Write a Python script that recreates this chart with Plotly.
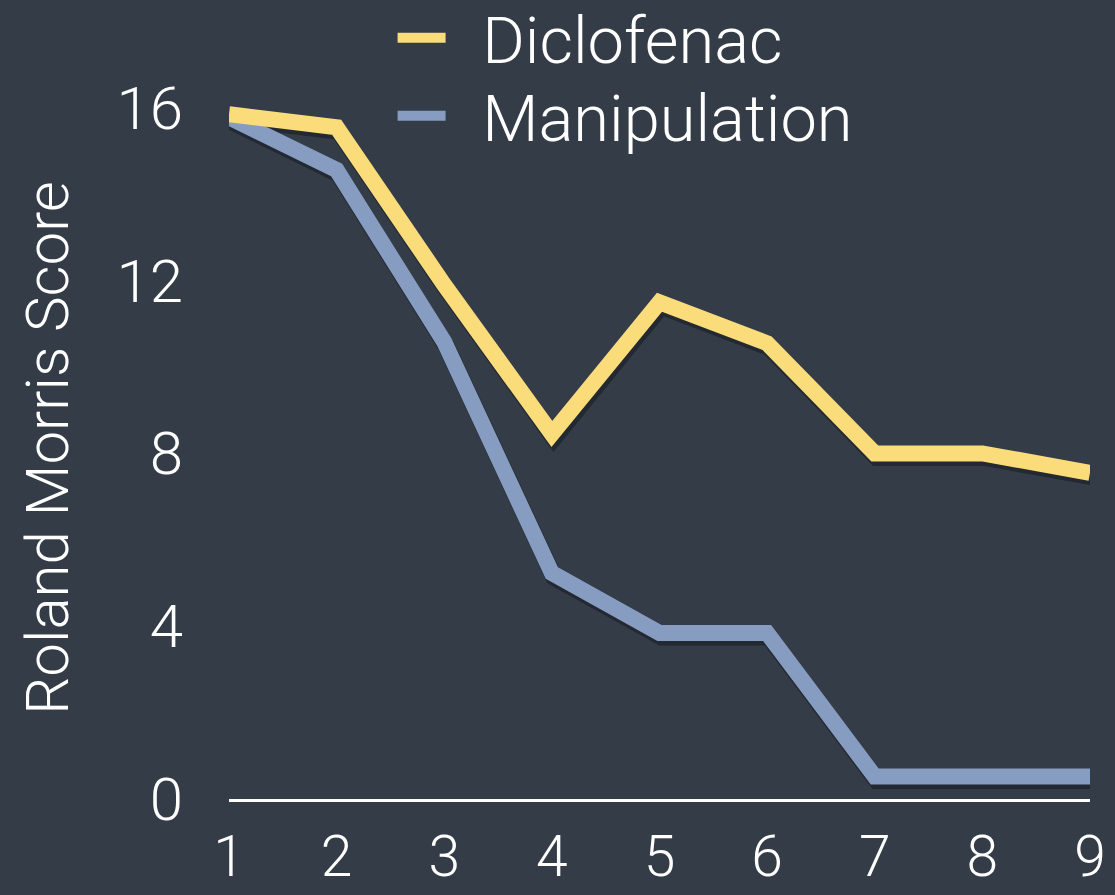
import plotly.graph_objects as go

# data
weeks = [1, 2, 3, 4, 5, 6, 7, 8, 9]
diclofenac = [15.85, 15.55, 11.9, 8.45, 11.5, 10.55, 8.0, 8.0, 7.55]
manipulation = [15.78, 14.56, 10.58, 5.23, 3.84, 3.84, 0.52, 0.52, 0.52]
y_ticks = [0, 4, 8, 12, 16]

bg = "#333c47"
yellow = "#fadc7a"
blue = "#869cc0"
shadow = "rgba(15,18,24,0.45)"
font = dict(family="Roboto", color="white", size=60, weight=300)

y_range = [0, 16.25]
x_range = [1, 9]
# shadow axes: same scale, shifted a few pixels down/right
dy = 4 / 43.2
dx = 2 / 107.6

fig = go.Figure()
# shadows on x2/y2, real lines on x3/y3 (drawn on top)
for vals in (manipulation, diclofenac):
    fig.add_trace(go.Scatter(x=weeks, y=vals, mode="lines", showlegend=False,
                             xaxis="x2", yaxis="y2", hoverinfo="skip",
                             line=dict(color=shadow, width=17)))
fig.add_trace(go.Scatter(x=weeks, y=manipulation, mode="lines", showlegend=False,
                         xaxis="x3", yaxis="y3", line=dict(color=blue, width=16)))
fig.add_trace(go.Scatter(x=weeks, y=diclofenac, mode="lines", showlegend=False,
                         xaxis="x3", yaxis="y3", line=dict(color=yellow, width=16)))
# legend-only entries, thinner sample lines
fig.add_trace(go.Scatter(x=[None], y=[None], mode="lines", name="\u00a0\u00a0Diclofenac",
                         line=dict(color=yellow, width=10), legend="legend"))
fig.add_trace(go.Scatter(x=[None], y=[None], mode="lines", name="\u00a0\u00a0Manipulation",
                         line=dict(color=blue, width=10), legend="legend2"))

leg = dict(x=0.19, xanchor="left", yanchor="middle", bgcolor="rgba(0,0,0,0)",
           font=dict(size=65), itemwidth=48)
fig.update_layout(
    width=1115, height=895,
    margin=dict(l=229, r=25, t=97, b=96, autoexpand=False),
    paper_bgcolor=bg, plot_bgcolor=bg,
    font=font,
    legend=dict(leg, y=1.084),
    legend2=dict(leg, y=0.973),
    xaxis=dict(range=x_range, tickvals=weeks, showgrid=False, zeroline=False,
               showline=True, linecolor="white", linewidth=3, automargin=False,
               ticks="outside", ticklen=6, tickcolor="rgba(0,0,0,0)",
               tickfont=dict(size=57)),
    yaxis=dict(range=y_range, tickvals=y_ticks, showgrid=False, zeroline=False,
               showline=False, ticks="outside", ticklen=33, automargin=False,
               tickcolor="rgba(0,0,0,0)",
               title=dict(text="Roland Morris Score", standoff=28, font=dict(size=60))),
    xaxis2=dict(overlaying="x", range=[x_range[0] - dx, x_range[1] - dx], visible=False),
    yaxis2=dict(overlaying="y", range=[y_range[0] + dy, y_range[1] + dy], visible=False),
    xaxis3=dict(overlaying="x", range=x_range, visible=False),
    yaxis3=dict(overlaying="y", range=y_range, visible=False),
)

fig.write_html("out.html", config={"displayModeBar": False},
               post_script="document.body.style.margin='0';"
                           "document.body.style.background='#333c47';")
